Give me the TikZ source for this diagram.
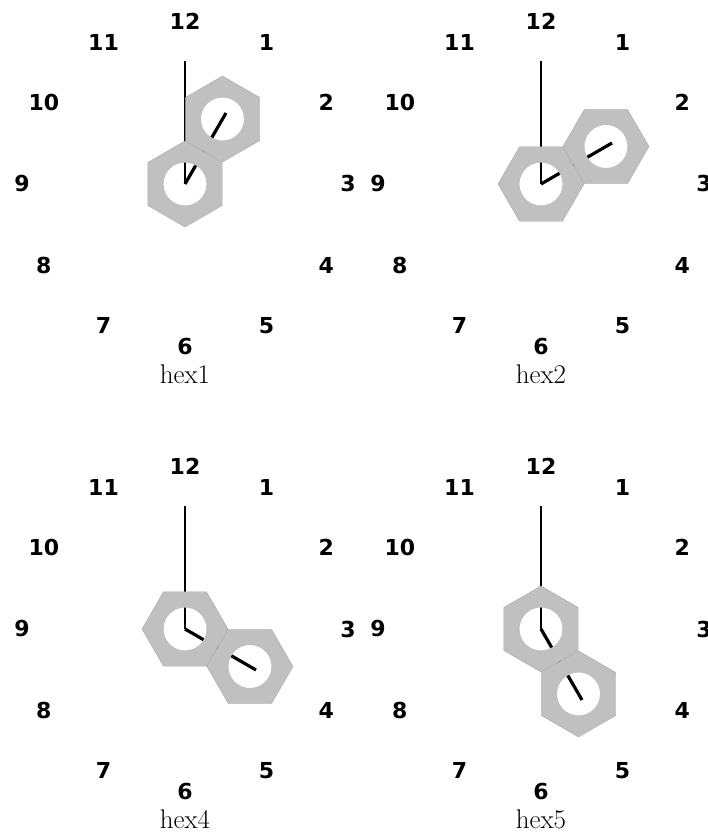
\documentclass[tikz,border=0pt]{standalone}
\usepackage{fontspec}
\usepackage{xcolor}
\usepackage{tikz}
\usetikzlibrary{calc}
\newfontfamily\dialfont{DejaVu Sans}
\definecolor{HEX_GRAY}{HTML}{C0C0C0}
\tikzset{
  dialnum/.style={
    inner sep=0pt, text centered,
    font=\dialfont\bfseries\fontsize{22}{26}\selectfont},
  caption/.style={
    inner sep=0pt, anchor=base,
    font=\fontsize{27}{31}\selectfont},
  minhand/.style={line width=1.5pt, color=black},
  hourhand/.style={line width=3.2pt, color=black},
  hexring/.style={fill=HEX_GRAY, even odd rule},
  hexedge/.style={draw=HEX_GRAY!88!black, line width=0.4pt},
}

\begin{document}
\begin{tikzpicture}[x=1pt, y=1pt]

  \useasboundingbox (0,0) rectangle (707,832);

  \foreach \cx/\cy/\ang/\lbl in {185/648/60/hex1, 541/648/30/hex2,
                                 185/203/-30/hex4, 541/203/-60/hex5} {

    \coordinate (c-\lbl) at (\cx,\cy);
    \coordinate (top-\lbl) at ($(c-\lbl)+(0,123)$);
    \coordinate (tip-\lbl) at ($(c-\lbl)+(\ang:82)$);
    \coordinate (nb-\lbl)  at ($(c-\lbl)+(\ang:75)$);

    % dial numbers
    \foreach \h in {1,...,12}
      \node[dialnum] (\lbl-n\h) at ($(c-\lbl)+(90-30*\h:163)$) {\h};

    % hands
    \draw[minhand]  (c-\lbl) -- (top-\lbl);
    \draw[hourhand] (c-\lbl) -- (tip-\lbl);

    % two hex nuts, edge to edge
    \foreach \p in {c-\lbl, nb-\lbl} {
      \fill[hexring, shift={(\p)}]
        (\ang+30:43) -- (\ang+90:43) -- (\ang+150:43) --
        (\ang+210:43) -- (\ang+270:43) -- (\ang+330:43) -- cycle
        (0,0) circle[radius=21.5];
      \draw[hexedge, shift={(\p)}]
        (\ang+30:43) -- (\ang+90:43) -- (\ang+150:43) --
        (\ang+210:43) -- (\ang+270:43) -- (\ang+330:43) -- cycle;
    }

    \node[caption] (cap-\lbl) at ($(c-\lbl)+(0,-200)$) {\lbl};
  }

\end{tikzpicture}
\end{document}
